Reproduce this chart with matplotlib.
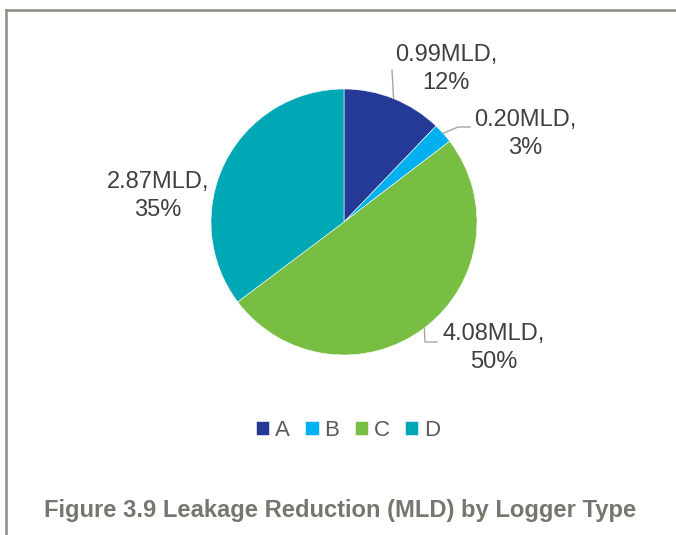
import numpy as np
import matplotlib
matplotlib.use('Agg')
import matplotlib.pyplot as plt
from matplotlib.lines import Line2D

plt.rcParams['font.family'] = ['Liberation Sans', 'DejaVu Sans']

# data
types = ['A', 'B', 'C', 'D']
leakage = [0.99, 0.20, 4.08, 2.87]          # MLD
percent = ['12%', '3%', '50%', '35%']
colors = ['#243A96', '#00B0F0', '#78BE43', '#00A8B6']
caption = 'Figure 3.9 Leakage Reduction (MLD) by Logger Type'

W, H = 676, 535
fig = plt.figure(figsize=(W / 100, H / 100), dpi=100)
ax = fig.add_axes([0, 0, 1, 1])

cx, cy, r = 344, H - 222, 133
wedges, _ = ax.pie(leakage, colors=colors, startangle=90, counterclock=False,
                   radius=r, center=(cx, cy), frame=True,
                   wedgeprops=dict(edgecolor='white', linewidth=0.4))
ax.set_xlim(0, W)
ax.set_ylim(0, H)
ax.set_aspect('equal')
ax.axis('off')

# label centres and leader elbows (pixel layout, y from top)
label_pos = [(446, 69), (525, 134), (494, 348), (158, 196)]
leaders = [[(392, 70)],
           [(458, 127), (470, 127)],
           [(425, 342), (437, 342)],
           None]

for w, v, p, pos, lead in zip(wedges, leakage, percent, label_pos, leaders):
    ax.text(pos[0], H - pos[1], '%.2fMLD,\n%s' % (v, p), ha='center',
            va='center', fontsize=17, color='#404040', linespacing=1.38)
    if lead is None:
        continue
    ang = np.deg2rad((w.theta1 + w.theta2) / 2)
    xs = [cx + r * np.cos(ang)] + [q[0] for q in lead]
    ys = [cy + r * np.sin(ang)] + [H - q[1] for q in lead]
    ax.plot(xs, ys, color='#A6A6A6', lw=1.0)

leg = fig.legend(wedges, types, loc='center', ncol=4, frameon=False,
                 bbox_to_anchor=(348 / W, 1 - 430 / H), fontsize=16,
                 handlelength=0.6, handleheight=0.6, handletextpad=0.25,
                 columnspacing=0.7, borderpad=0)
for t in leg.get_texts():
    t.set_color('#595959')

fig.text(340 / W, 1 - 511 / H, caption, ha='center', va='center',
         fontsize=17.1, fontweight='bold', color='#76766E')

# frame on top and left
fig.add_artist(Line2D([6 / W, 1], [1 - 10 / H, 1 - 10 / H],
                      color='#8C8C84', lw=1.8))
fig.add_artist(Line2D([6 / W, 6 / W], [0, 1 - 10 / H],
                      color='#8C8C84', lw=1.8))

fig.savefig('out.png', dpi=100)
